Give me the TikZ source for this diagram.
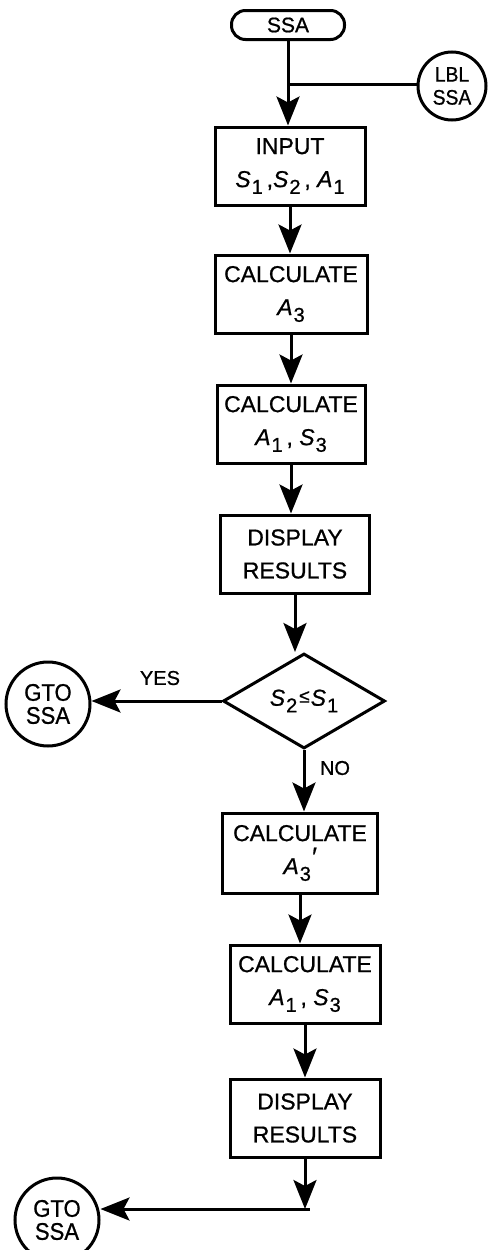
\documentclass[tikz,border=0pt]{standalone}
\usepackage{fontspec}
\setmainfont{Liberation Sans}[UprightFeatures={FakeBold=0.8},ItalicFeatures={FakeBold=0.8}]
\newfontfamily\condfont{Liberation Sans}[FakeStretch=0.92,UprightFeatures={FakeBold=0.8}]
\usetikzlibrary{shapes.geometric,arrows.meta}
\newcommand{\mysub}[1]{\kern1pt\raisebox{-0.55ex}{\fontsize{20}{20}\selectfont #1}}
\newcommand{\var}[1]{\textit{#1}}
\begin{document}
\begin{tikzpicture}[x=1pt,y=-1pt,
  line width=3pt,
  box/.style={draw, rectangle, line width=3pt, minimum width=#1, minimum height=78pt, inner sep=0pt, align=center, font=\fontsize{23}{33}\selectfont},
  box/.default=150pt,
  conn/.style={draw, circle, line width=3pt, inner sep=0pt, align=center, font=\condfont\fontsize{21}{23}\selectfont},
  big/.style={font=\condfont\fontsize{24}{23}\selectfont},
  arr/.style={-{Stealth[length=29pt,width=23pt,inset=6pt]}, line width=3pt},
  lab/.style={font=\fontsize{20}{20}\selectfont}
]
\useasboundingbox (0,0) rectangle (499,1250);

\node[draw, rounded corners=14pt, line width=3pt, minimum width=113pt, minimum height=29pt, inner sep=0pt, font=\fontsize{21}{21}\selectfont] (ssa) at (288,25) {SSA};
\node[conn, minimum size=68pt] (lbl) at (452,86) {LBL\\SSA};
\coordinate (junc) at (288,84);

\node[box] (input) at (290,166) {INPUT\\\var{S}\mysub{1}\,,\var{S}\mysub{2}\,, \var{A}\mysub{1}};
\node[box=152pt] (calc1) at (291,294) {CALCULATE\\\var{A}\mysub{3}};
\node[box=148pt] (calc2) at (291,424) {CALCULATE\\\var{A}\mysub{1}\,, \var{S}\mysub{3}};
\node[box=149pt] (disp1) at (295,554) {DISPLAY\\RESULTS};
\node[draw, diamond, line width=3pt, aspect=1.7, minimum width=162pt, minimum height=95pt, inner sep=0pt, font=\fontsize{23}{23}\selectfont] (dec) at (304,701) {\var{S}\mysub{2}\kern2pt\raisebox{0.25ex}{\fontsize{19}{19}\selectfont ≤}\kern1pt\var{S}\mysub{1}};
\node[conn, big, minimum size=84pt] (gto1) at (48,704) {GTO\\SSA};
\node[box=155pt, minimum height=80pt] (calc3) at (300,853) {CALCULATE\\\var{A}\mysub{3}\raisebox{0.7ex}{\fontsize{26}{26}\selectfont\textit{\char"2032}}};
\node[box] (calc4) at (305,984) {CALCULATE\\\var{A}\mysub{1}\,, \var{S}\mysub{3}};
\node[box] (disp2) at (305,1118) {DISPLAY\\RESULTS};
\coordinate (corner) at (308,1209);
\node[conn, big, minimum size=84pt] (gto2) at (57,1220) {GTO\\SSA};

\node[lab] (yes) at (160,678) {YES};
\node[lab] (no) at (335,768) {NO};

\draw[arr] (ssa.south) -- (ssa.south |- input.north);
\draw (lbl.west |- junc) -- (junc);
\draw[arr] (input.south) -- (input.south |- calc1.north);
\draw[arr] (calc1.south) -- (calc1.south |- calc2.north);
\draw[arr] (calc2.south) -- (calc2.south |- disp1.north);
\draw[arr] (disp1.south) -- (disp1.south |- dec.north);
\draw[arr] (dec.west) -- (gto1.east |- dec.west);
\draw[arr] (dec.south) -- (dec.south |- calc3.north);
\draw[arr] (calc3.south) -- (calc3.south |- calc4.north);
\draw[arr] (calc4.south) -- (calc4.south |- disp2.north);
\draw[arr] (disp2.south) -- (disp2.south |- corner);
\draw[arr] ([xshift=1.5pt]corner) -- (gto2.east |- corner);
\end{tikzpicture}
\end{document}
